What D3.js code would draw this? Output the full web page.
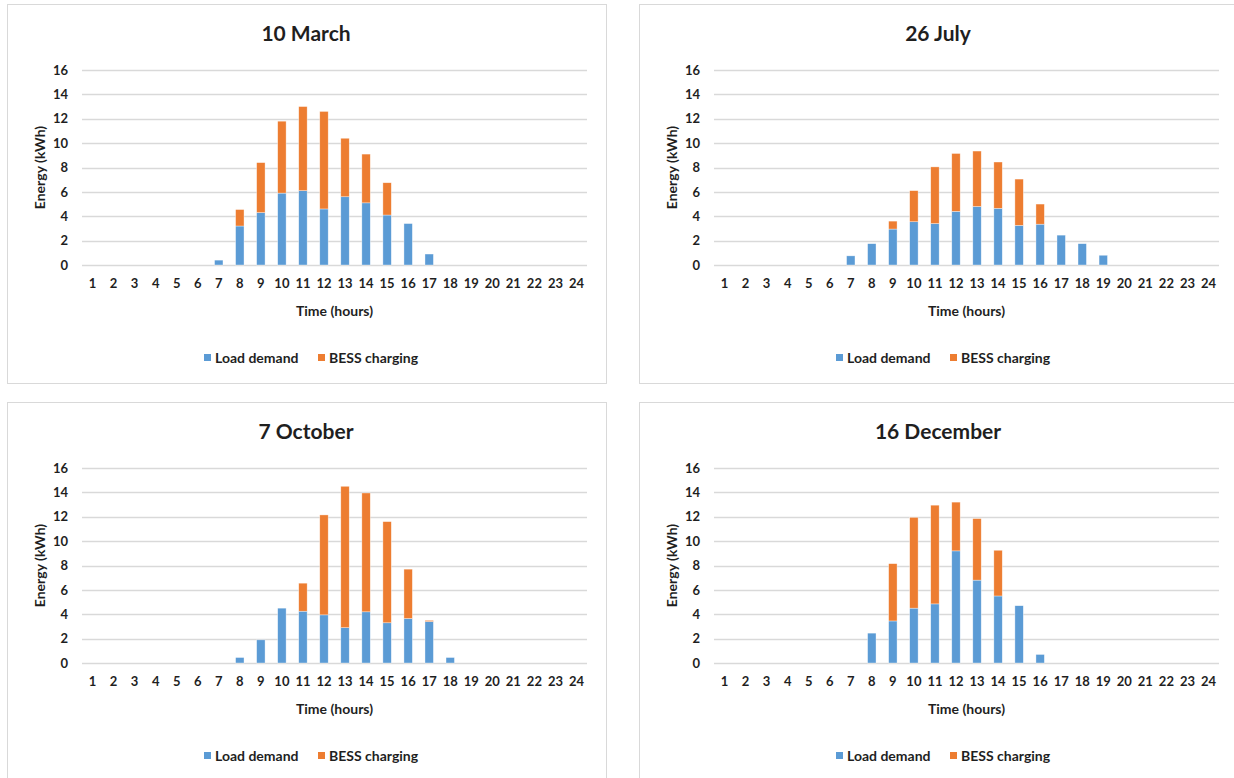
<!DOCTYPE html>
<html>
<head>
<meta charset="utf-8">
<script src="https://cdn.jsdelivr.net/npm/d3@7"></script>
<style>
  html, body { margin: 0; padding: 0; background: #fff; }
  svg { display: block; font-family: Lato, "Open Sans", sans-serif; }
</style>
</head>
<body>
<svg id="chart" width="1234" height="778"></svg>
<script>
// ---- Data ----
const hourLabels = ["1","2","3","4","5","6","7","8","9","10","11","12","13","14","15","16","17","18","19","20","21","22","23","24"];
const yTicks = [0, 2, 4, 6, 8, 10, 12, 14, 16];
const seriesNames = ["Load demand", "BESS charging"];
const seriesColors = ["#5B9BD5", "#ED7D31"];
const panelTitles = ["10 March", "26 July", "7 October", "16 December"];

const marchLoad = [0,0,0,0,0,0,0.4,3.2,4.3,5.9,6.1,4.6,5.6,5.1,4.1,3.4,0.9,0,0,0,0,0,0,0];
const marchBess = [0,0,0,0,0,0,0,1.35,4.1,5.9,6.9,8.0,4.8,4.0,2.65,0,0,0,0,0,0,0,0,0];

const julyLoad = [0,0,0,0,0,0,0.75,1.75,2.95,3.55,3.4,4.4,4.8,4.65,3.25,3.35,2.45,1.75,0.8,0,0,0,0,0];
const julyBess = [0,0,0,0,0,0,0,0,0.65,2.55,4.65,4.75,4.55,3.8,3.8,1.65,0,0,0,0,0,0,0,0];

const octLoad = [0,0,0,0,0,0,0,0.45,1.9,4.5,4.25,3.95,2.9,4.2,3.3,3.65,3.4,0.45,0,0,0,0,0,0];
const octBess = [0,0,0,0,0,0,0,0,0,0,2.3,8.2,11.6,9.75,8.3,4.05,0.1,0,0,0,0,0,0,0];

const decLoad = [0,0,0,0,0,0,0,2.45,3.45,4.5,4.85,9.2,6.8,5.5,4.7,0.7,0,0,0,0,0,0,0,0];
const decBess = [0,0,0,0,0,0,0,0,4.7,7.45,8.1,4.0,5.05,3.75,0,0,0,0,0,0,0,0,0,0];

const panelLoads = [marchLoad, julyLoad, octLoad, decLoad];
const panelBess = [marchBess, julyBess, octBess, decBess];

// ---- Layout ----
const panelPos = [
  {x: 7, y: 4, w: 599, h: 379},
  {x: 639, y: 4, w: 600, h: 379},
  {x: 7, y: 402, w: 599, h: 379},
  {x: 639, y: 402, w: 600, h: 379}
];
const textColor = "#1f1f1f";

const svg = d3.select("#chart");

panelPos.forEach((p, i) => {
  const g = svg.append("g").attr("transform", `translate(${p.x},${p.y})`);
  g.append("rect")
    .attr("x", 0.5).attr("y", 0.5)
    .attr("width", p.w).attr("height", p.h)
    .attr("fill", "#fff").attr("stroke", "#d9d9d9").attr("stroke-width", 1);

  const left = 75, right = 580, top = 66, bottom = 261;

  const x = d3.scaleBand().domain(hourLabels).range([left, right]).paddingInner(0.6).paddingOuter(0.3);
  const y = d3.scaleLinear().domain([0, 16]).range([bottom, top]);

  // gridlines
  g.append("g").selectAll("line").data(yTicks).join("line")
    .attr("x1", left).attr("x2", right)
    .attr("y1", d => Math.round(y(d)) + 0.5).attr("y2", d => Math.round(y(d)) + 0.5)
    .attr("stroke", "#d9d9d9").attr("stroke-width", 1.3);

  // y axis labels
  const yAxis = d3.axisLeft(y).tickValues(yTicks).tickSize(0).tickPadding(0);
  const ya = g.append("g").attr("transform", `translate(${left - 14},0)`).call(yAxis);
  ya.select(".domain").remove();
  ya.selectAll("text").attr("font-size", 13).attr("font-weight", "bold").attr("fill", textColor)
    .attr("font-family", "Lato, sans-serif");

  // x axis labels
  const xAxis = d3.axisBottom(x).tickSize(0).tickPadding(0);
  const xa = g.append("g").attr("transform", `translate(0,${bottom + 14})`).call(xAxis);
  xa.select(".domain").remove();
  xa.selectAll("text").attr("font-size", 13).attr("font-weight", "bold").attr("fill", textColor)
    .attr("font-family", "Lato, sans-serif");

  // stacked bars
  const rows = hourLabels.map((h, k) => ({hour: h, load: panelLoads[i][k], bess: panelBess[i][k]}));
  const stack = d3.stack().keys(["load", "bess"])(rows);
  g.append("g").selectAll("g").data(stack).join("g")
    .attr("fill", (d, k) => seriesColors[k])
    .selectAll("rect").data(d => d.filter(v => v[1] - v[0] > 0)).join("rect")
    .attr("x", d => x(d.data.hour))
    .attr("width", x.bandwidth())
    .attr("y", d => y(d[1]))
    .attr("height", d => y(d[0]) - y(d[1]))
    .attr("stroke", "#ffffff").attr("stroke-opacity", 0.6).attr("stroke-width", 0.6);

  // title (centered on panel)
  g.append("text")
    .attr("x", 299).attr("y", 37)
    .attr("text-anchor", "middle")
    .attr("font-size", 21).attr("font-weight", "bold").attr("fill", textColor)
    .text(panelTitles[i]);

  // y axis title
  g.append("text")
    .attr("transform", `translate(38,${(top + bottom) / 2}) rotate(-90)`)
    .attr("text-anchor", "middle")
    .attr("font-size", 14).attr("font-weight", "bold").attr("fill", textColor)
    .text("Energy (kWh)");

  // x axis title
  g.append("text")
    .attr("x", (left + right) / 2).attr("y", 312)
    .attr("text-anchor", "middle")
    .attr("font-size", 14).attr("font-weight", "bold").attr("fill", textColor)
    .text("Time (hours)");

  // legend
  const legendItems = [{name: seriesNames[0], color: seriesColors[0], x: 197}, {name: seriesNames[1], color: seriesColors[1], x: 311}];
  const lg = g.append("g").attr("transform", `translate(0,${354})`);
  legendItems.forEach(it => {
    lg.append("rect").attr("x", it.x).attr("y", -4).attr("width", 7).attr("height", 7).attr("fill", it.color);
    lg.append("text").attr("x", it.x + 11).attr("y", 5)
      .attr("font-size", 14).attr("font-weight", "bold").attr("fill", textColor)
      .text(it.name);
  });
});
</script>
</body>
</html>
